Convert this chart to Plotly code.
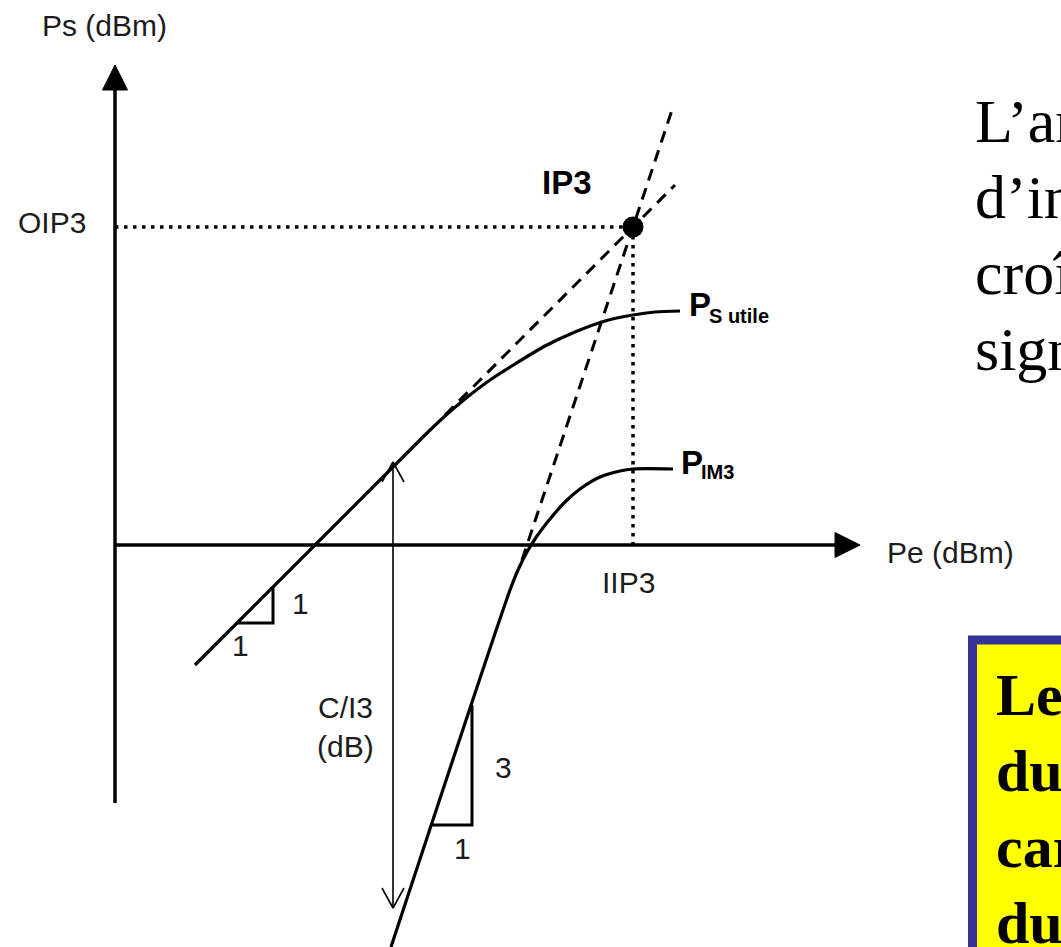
import plotly.graph_objects as go

# ---- Power transfer characteristics (Pe in dBm on x, Ps in dBm on y) ----
# Useful (fundamental) output power, slope 1 then compression
pe_fund = [8.0, 31.0, 33.0, 35.0, 37.5, 40.0, 43.0, 46.0, 49.0, 51.8, 54.0, 56.5]
ps_fund = [-12.0, 11.0, 12.9, 14.6, 16.5, 18.1, 19.9, 21.3, 22.4, 23.0, 23.3, 23.4]

# Third-order intermodulation output power, slope 3 then saturation
pe_im3 = [27.6, 39.5, 40.3, 41.2, 42.2, 43.5, 45.0, 46.5, 48.5, 50.5, 51.8, 55.8]
ps_im3 = [-40.2, -4.5, -2.5, -0.7, 0.9, 2.6, 4.3, 5.6, 6.8, 7.4, 7.6, 7.6]

# Extrapolated asymptotes (slope 1 and slope 3) meeting at IP3
pe_asym1 = [33.0, 56.0]
ps_asym1 = [13.0, 36.0]
pe_asym3 = [40.7, 55.8]
ps_asym3 = [-1.5, 43.8]

# Third-order intercept point
IIP3 = 51.8
OIP3 = 31.8

# Slope indicator triangles (1:1 and 3:1)
tri1_pe = [12.2, 15.8, 15.8]
tri1_ps = [-7.8, -7.8, -4.2]
tri3_pe = [31.7, 35.7, 35.7]
tri3_ps = [-28.0, -28.0, -16.0]

# C/I3 double arrow
ci3_pe = 27.8
ci3_top = 8.3
ci3_bottom = -36.3

# Axis extents
x_axis_tip = 74.5
y_axis_tip = 48.0
y_axis_bottom = -25.8

# ---- Geometry of the canvas: 1 dB = 10 px, origin at axes crossing ----
W, H = 1061, 947
X0_PX, Y0_PX, SCALE = 115, 545, 10.0
x_range = [(0 - X0_PX) / SCALE, (W - X0_PX) / SCALE]
y_range = [(Y0_PX - H) / SCALE, (Y0_PX - 0) / SCALE]


def at(xp, yp):
    """Pixel position on the canvas -> data coordinates (for label placement)."""
    return (xp - X0_PX) / SCALE, (Y0_PX - yp) / SCALE


BLACK = "#000000"
LABEL = "#1c1c1c"
SANS = "Liberation Sans, Arial, sans-serif"
SERIF = "Liberation Serif, Times New Roman, serif"

HEAD_LEN = 2.5   # axis arrowhead length (dB units)
HEAD_HALF = 1.25
V_LEN = 2.0      # C/I3 open arrowhead
V_HALF = 1.1

fig = go.Figure()


def line(xs, ys, width=3, dash="solid", color=BLACK, shape="linear"):
    fig.add_trace(go.Scatter(x=xs, y=ys, mode="lines",
                             line=dict(color=color, width=width, dash=dash, shape=shape,
                                       smoothing=0.8 if shape == "spline" else None),
                             hoverinfo="skip", showlegend=False))


# Axes with filled arrowheads
line([0, 0], [y_axis_bottom, y_axis_tip - HEAD_LEN], width=3.5)
line([0, x_axis_tip - HEAD_LEN], [0, 0], width=3.5)
fig.add_trace(go.Scatter(
    x=[-HEAD_HALF, 0, HEAD_HALF, -HEAD_HALF],
    y=[y_axis_tip - HEAD_LEN, y_axis_tip, y_axis_tip - HEAD_LEN, y_axis_tip - HEAD_LEN],
    mode="lines", fill="toself", fillcolor=BLACK, line=dict(color=BLACK, width=1),
    hoverinfo="skip", showlegend=False))
fig.add_trace(go.Scatter(
    x=[x_axis_tip - HEAD_LEN, x_axis_tip, x_axis_tip - HEAD_LEN, x_axis_tip - HEAD_LEN],
    y=[-HEAD_HALF, 0, HEAD_HALF, -HEAD_HALF],
    mode="lines", fill="toself", fillcolor=BLACK, line=dict(color=BLACK, width=1),
    hoverinfo="skip", showlegend=False))

# Dotted projections of IP3 onto the axes
line([0, IIP3], [OIP3, OIP3], width=3.5, dash="3.5px,5.5px")
line([IIP3, IIP3], [OIP3, 0], width=3.5, dash="3.5px,5.5px")

# Dashed asymptotes
line(pe_asym1, ps_asym1, width=3, dash="12px,8px")
line(pe_asym3, ps_asym3, width=3, dash="12px,8px")

# Transfer curves
line(pe_fund, ps_fund, width=3.2, shape="spline")
line(pe_im3, ps_im3, width=3.2, shape="spline")

# Slope triangles
line(tri1_pe, tri1_ps, width=3)
line(tri3_pe, tri3_ps, width=3)

# C/I3 double arrow (thin, open heads)
line([ci3_pe, ci3_pe], [ci3_bottom, ci3_top], width=1.6)
line([ci3_pe - V_HALF, ci3_pe, ci3_pe + V_HALF],
     [ci3_top - V_LEN, ci3_top, ci3_top - V_LEN], width=1.6)
line([ci3_pe - V_HALF, ci3_pe, ci3_pe + V_HALF],
     [ci3_bottom + V_LEN, ci3_bottom, ci3_bottom + V_LEN], width=1.6)

# IP3 marker
fig.add_trace(go.Scatter(x=[IIP3], y=[OIP3], mode="markers",
                         marker=dict(color=BLACK, size=21),
                         hoverinfo="skip", showlegend=False))

annotations = []


def label(text, xp, yp, size=30, color=LABEL, family=SANS, xanchor="center", bold=False):
    x, y = at(xp, yp)
    if bold:
        text = "<b>" + text + "</b>"
    annotations.append(dict(x=x, y=y, xref="x", yref="y", text=text, showarrow=False,
                            xanchor=xanchor, yanchor="middle",
                            font=dict(size=size, color=color, family=family)))


label("Ps (dBm)", 104, 25)
label("Pe (dBm)", 950, 552)
label("OIP3", 52, 222)
label("IIP3", 628, 582)
label("IP3", 567, 182, size=33, color=BLACK, bold=True)
label("C/I3", 345, 707)
label("(dB)", 345, 746)
label("1", 300, 603)
label("1", 240, 645)
label("3", 503, 767)
label("1", 462, 848)
label("P", 687, 304, size=33, color=BLACK, xanchor="left", bold=True)
label("S utile", 707, 316, size=20, color=BLACK, xanchor="left", bold=True)
label("P", 679, 462, size=33, color=BLACK, xanchor="left", bold=True)
label("IM3", 699, 472, size=20, color=BLACK, xanchor="left", bold=True)

# Slide text on the right (runs past the edge of the canvas)
side_lines = ["L’amplitude des produits", "d’intermodulation", "croît 3 fois plus vite que le", "signal utile"]
for i, t in enumerate(side_lines):
    label(t, 973, 121 + 76 * i, size=62, color=BLACK, family=SERIF, xanchor="left")

box_lines = ["Les produits", "du 3ème ordre", "car ils tombent", "du signal utile"]
for i, t in enumerate(box_lines):
    label(t, 994, 695 + 76 * i, size=60, color=BLACK, family=SERIF, xanchor="left", bold=True)

bx0, by0 = at(972.5, 640)
bx1, by1 = at(1200, 1100)
fig.update_layout(
    width=W, height=H, autosize=False,
    margin=dict(l=0, r=0, t=0, b=0, pad=0),
    paper_bgcolor="white", plot_bgcolor="white",
    xaxis=dict(range=x_range, visible=False, fixedrange=True),
    yaxis=dict(range=y_range, visible=False, fixedrange=True),
    showlegend=False,
    annotations=annotations,
    shapes=[dict(type="rect", xref="x", yref="y", x0=bx0, y0=by0, x1=bx1, y1=by1,
                 fillcolor="#FFFF00", line=dict(color="#333399", width=9), layer="below")],
)

fig.write_html("out.html")
